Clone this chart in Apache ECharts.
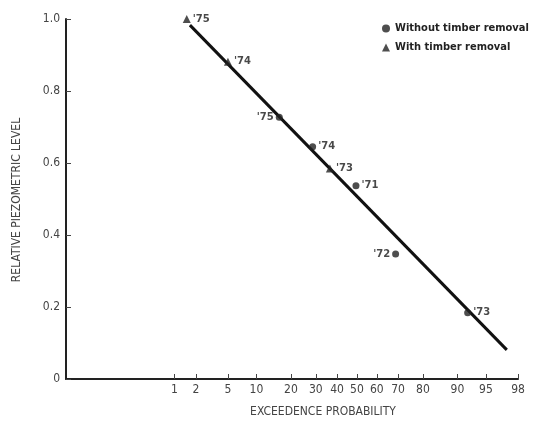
<!DOCTYPE html>
<html>
<head>
<meta charset="utf-8">
<script src="https://cdn.jsdelivr.net/npm/echarts@6/dist/echarts.min.js"></script>
<style>
html,body{margin:0;padding:0;background:#fff;}
#main{width:543px;height:428px;}
</style>
</head>
<body>
<div id="main"></div>
<script>
// exceedence probability (%) and relative piezometric level
var withoutProb = [16.1, 28.6, 49.5, 68.9, 92.1];
var withoutLevel = [0.727, 0.645, 0.537, 0.347, 0.184];
var withoutYears = ["'75", "'74", "'71", "'72", "'73"];

var withProb = [1.5, 5.0, 36.5];
var withLevel = [1.0, 0.881, 0.585];
var withYears = ["'75", "'74", "'73"];

// fitted line ends
var fitProb = [1.66, 97.2];
var fitLevel = [0.983, 0.081];

var probTicks = [1, 2, 5, 10, 20, 30, 40, 50, 60, 70, 80, 90, 95, 98];

// label sides (style only)
var withoutSide = ['left', 'right', 'right', 'left', 'right'];
var withSide = ['right', 'right', 'right'];

// inverse normal cdf, used as the probability-paper scale
function probit(p) {
	var a = [-3.969683028665376e+01, 2.209460984245205e+02, -2.759285104469687e+02, 1.383577518672690e+02, -3.066479806614716e+01, 2.506628277459239e+00];
	var b = [-5.447609879822406e+01, 1.615858368580409e+02, -1.556989798598866e+02, 6.680131188771972e+01, -1.328068155288572e+01];
	var c = [-7.784894002430293e-03, -3.223964580411365e-01, -2.400758277161838e+00, -2.549732539343734e+00, 4.374664141464968e+00, 2.938163982698783e+00];
	var d = [7.784695709041462e-03, 3.224671290700398e-01, 2.445134137142996e+00, 3.754408661907416e+00];
	var pl = 0.02425, q, r;
	if (p < pl) {
		q = Math.sqrt(-2 * Math.log(p));
		return (((((c[0]*q+c[1])*q+c[2])*q+c[3])*q+c[4])*q+c[5]) / ((((d[0]*q+d[1])*q+d[2])*q+d[3])*q+1);
	}
	if (p > 1 - pl) {
		q = Math.sqrt(-2 * Math.log(1 - p));
		return -(((((c[0]*q+c[1])*q+c[2])*q+c[3])*q+c[4])*q+c[5]) / ((((d[0]*q+d[1])*q+d[2])*q+d[3])*q+1);
	}
	q = p - 0.5; r = q * q;
	return (((((a[0]*r+a[1])*r+a[2])*r+a[3])*r+a[4])*r+a[5])*q / (((((b[0]*r+b[1])*r+b[2])*r+b[3])*r+b[4])*r+1);
}
function z(pct) { return probit(pct / 100); }

var tickZ = probTicks.map(z);

function points(probs, levels, years, sides) {
	return probs.map(function (p, i) {
		return {
			value: [z(p), levels[i]],
			label: { position: sides[i], formatter: years[i] }
		};
	});
}

var narrow = 'Liberation Sans Narrow, DejaVu Sans Condensed, sans-serif';
var labelStyle = {
	show: true,
	fontFamily: 'DejaVu Sans',
	fontWeight: 'bold',
	fontSize: 10,
	color: '#1a1a1a',
	distance: 2
};

var dom = document.getElementById('main');
var myChart = echarts.init(dom);
var option = {
	animation: false,
	grid: { left: 66, right: 25, top: 19, bottom: 49 },
	legend: {
		orient: 'vertical',
		left: 377,
		top: 18,
		itemWidth: 8,
		itemHeight: 8,
		itemGap: 8,
		data: ['Without timber removal', 'With timber removal'],
		textStyle: { fontFamily: narrow, fontWeight: 'bold', fontSize: 11, color: '#222' }
	},
	xAxis: {
		type: 'value',
		min: -3.71,
		max: z(98),
		splitLine: { show: false },
		axisLine: { onZero: false, lineStyle: { color: '#222', width: 2 } },
		axisTick: { inside: true, length: 5, customValues: tickZ, lineStyle: { color: '#444' } },
		axisLabel: {
			customValues: tickZ,
			margin: 5,
			fontFamily: narrow,
			fontSize: 12,
			color: '#444',
			formatter: function (v) {
				var best = 0;
				tickZ.forEach(function (t, i) { if (Math.abs(t - v) < Math.abs(tickZ[best] - v)) best = i; });
				return String(probTicks[best]);
			}
		}
	},
	yAxis: {
		type: 'value',
		min: 0,
		max: 1,
		interval: 0.2,
		splitLine: { show: false },
		axisLine: { onZero: false, lineStyle: { color: '#222', width: 2 } },
		axisTick: { inside: true, length: 5, lineStyle: { color: '#444' } },
		axisLabel: {
			margin: 6,
			fontFamily: narrow,
			fontSize: 12,
			color: '#444',
			formatter: function (v) { return v === 0 ? '0' : v.toFixed(1); }
		}
	},
	graphic: [
		{
			type: 'text',
			rotation: Math.PI / 2,
			x: 17, y: 200,
			style: { text: 'RELATIVE PIEZOMETRIC LEVEL', fontFamily: narrow, fontSize: 12, fill: '#444', align: 'center', verticalAlign: 'middle' }
		},
		{
			type: 'text',
			x: 323, y: 412,
			style: { text: 'EXCEEDENCE PROBABILITY', fontFamily: narrow, fontSize: 12, fill: '#444', align: 'center', verticalAlign: 'middle' }
		}
	],
	series: [
		{
			name: 'fit',
			type: 'line',
			data: fitProb.map(function (p, i) { return [z(p), fitLevel[i]]; }),
			symbol: 'none',
			lineStyle: { color: '#111', width: 3 },
			z: 1
		},
		{
			name: 'Without timber removal',
			type: 'scatter',
			symbol: 'circle',
			symbolSize: 7,
			itemStyle: { color: '#222' },
			label: labelStyle,
			data: points(withoutProb, withoutLevel, withoutYears, withoutSide),
			z: 3
		},
		{
			name: 'With timber removal',
			type: 'scatter',
			symbol: 'triangle',
			symbolSize: 8,
			itemStyle: { color: '#222' },
			label: labelStyle,
			data: points(withProb, withLevel, withYears, withSide),
			z: 3
		}
	]
};
if (option && typeof option === "object") {
	myChart.setOption(option, true);
}
</script>
</body>
</html>
